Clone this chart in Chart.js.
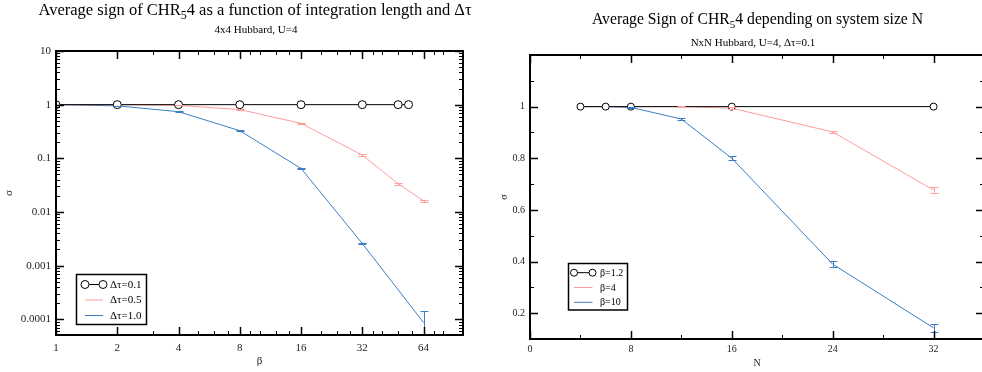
<!DOCTYPE html>
<html><head><meta charset="utf-8">
<script src="https://cdn.jsdelivr.net/npm/chart.js@4.4.0/dist/chart.umd.min.js"></script>
<style>
html,body{margin:0;padding:0;background:#fff;overflow:hidden;width:982px;height:372px;position:relative;}
#c1{position:absolute;left:0;top:0;}
#c2{position:absolute;left:491px;top:0;}
</style></head><body>
<canvas id="c1" width="491" height="372"></canvas>
<canvas id="c2" width="520" height="372"></canvas>
<script>
// ---------- Left chart data (4x4 Hubbard, U=4) ----------
const tau01Beta = [1, 2, 4, 8, 16, 32, 48, 54];
const tau01Sign = [1, 1, 1, 1, 1, 1, 1, 1];
const tau05Beta = [1, 2, 4, 8, 16, 32, 48, 64];
const tau05Sign = [1, 0.995, 0.97, 0.81, 0.448, 0.115, 0.0336, 0.0162];
const tau05Err  = [0, 0, 0.005, 0.01, 0.012, 0.004, 0.0012, 0.0008];
const tau10Beta = [1, 2, 4, 8, 16, 32, 64];
const tau10Sign = [1, 0.95, 0.74, 0.327, 0.0648, 0.00258, 0.000087];
const tau10Err  = [0, 0.005, 0.01, 0.008, 0.002, 0.0001, 0.000053];
const leftXTicks = [1, 2, 4, 8, 16, 32, 64];
const leftXMinor = [3, 5, 6, 7, 9, 10, 12, 14, 20, 24, 28, 36, 40, 48, 56, 72, 80];
const leftYTicks = [0.0001, 0.001, 0.01, 0.1, 1, 10];
const leftLabels = ['\u0394\u03c4=0.1', '\u0394\u03c4=0.5', '\u0394\u03c4=1.0'];

// ---------- Right chart data (NxN Hubbard, U=4, dtau=0.1) ----------
const b12N = [4, 6, 8, 16, 32];
const b12Sign = [1, 1, 1, 1, 1];
const b4N = [4, 6, 8, 12, 16, 24, 32];
const b4Sign = [1, 1, 1, 1, 0.994, 0.902, 0.677];
const b4Err  = [0, 0, 0, 0.002, 0.003, 0.004, 0.01];
const b10N = [4, 6, 8, 12, 16, 24, 32];
const b10Sign = [1, 1, 0.997, 0.952, 0.80, 0.39, 0.143];
const b10Err  = [0, 0, 0.002, 0.003, 0.007, 0.011, 0.014];
const rightXTicks = [0, 8, 16, 24, 32];
const rightXMinor = [4, 12, 20, 28];
const rightYTicks = [0.2, 0.4, 0.6, 0.8, 1];
const rightYMinor = [0.3, 0.5, 0.7, 0.9, 1.1, 1.2];
const rightLabels = ['\u03b2=1.2', '\u03b2=4', '\u03b2=10'];

const SERIF = "'Liberation Serif','Times New Roman',serif";
const PINK = '#ff9c9c';
const BLUE = '#3a7fc4';

function pts(xs, ys) { return xs.map((x, i) => ({ x: x, y: ys[i] })); }

const titlePlugin = {
  id: 'titles',
  afterDraw(chart, args, o) {
    const ctx = chart.ctx;
    ctx.save();
    ctx.fillStyle = '#000';
    ctx.textBaseline = 'alphabetic';
    const big = o.size + 'px ' + SERIF, small = Math.round(o.size * 0.7) + 'px ' + SERIF;
    let w = 0;
    o.parts.forEach(p => { ctx.font = p.sub ? small : big; w += ctx.measureText(p.t).width; });
    let x = o.cx - w / 2;
    ctx.textAlign = 'left';
    o.parts.forEach(p => {
      ctx.font = p.sub ? small : big;
      ctx.fillText(p.t, x, o.y + (p.sub ? 4 : 0));
      x += ctx.measureText(p.t).width;
    });
    ctx.font = o.subSize + 'px ' + SERIF;
    ctx.textAlign = 'center';
    ctx.fillText(o.subText, o.subCx, o.subY);
    ctx.restore();
  }
};

const errPlugin = {
  id: 'errbars',
  afterDatasetsDraw(chart) {
    const { ctx, chartArea: ca, scales: { x, y } } = chart;
    ctx.save();
    ctx.beginPath(); ctx.rect(ca.left, ca.top, ca.width, ca.height); ctx.clip();
    chart.data.datasets.forEach(ds => {
      if (!ds.errors) return;
      ctx.strokeStyle = ds.borderColor; ctx.lineWidth = 1;
      ds.data.forEach((p, i) => {
        const e = ds.errors[i];
        if (!e) return;
        const px = Math.round(x.getPixelForValue(p.x)) + 0.5;
        const lo = p.y - e;
        const yTop = y.getPixelForValue(p.y + e);
        const yBot = lo > 0 ? y.getPixelForValue(lo) : ca.bottom + 10;
        ctx.beginPath();
        ctx.moveTo(px, yTop); ctx.lineTo(px, yBot);
        ctx.moveTo(px - 4, Math.round(yTop) + 0.5); ctx.lineTo(px + 4, Math.round(yTop) + 0.5);
        ctx.moveTo(px - 4, Math.round(yBot) + 0.5); ctx.lineTo(px + 4, Math.round(yBot) + 0.5);
        ctx.stroke();
      });
    });
    ctx.restore();
  }
};

const framePlugin = {
  id: 'frame',
  afterDatasetsDraw(chart, args, o) {
    const { ctx, chartArea: ca, scales: { x, y } } = chart;
    ctx.save();
    ctx.strokeStyle = '#000';
    const seg = (x0, y0, x1, y1) => { ctx.beginPath(); ctx.moveTo(x0, y0); ctx.lineTo(x1, y1); ctx.stroke(); };
    const xt = (vals, len, lw) => {
      ctx.lineWidth = lw;
      vals.forEach(v => {
        const p = Math.round(x.getPixelForValue(v)) + 0.5;
        if (p < ca.left - 0.5 || p > ca.right + 0.5) return;
        seg(p, ca.bottom, p, ca.bottom - len); seg(p, ca.top, p, ca.top + len);
      });
    };
    const yt = (vals, len, lw) => {
      ctx.lineWidth = lw;
      vals.forEach(v => {
        const p = Math.round(y.getPixelForValue(v)) + 0.5;
        if (p < ca.top - 0.5 || p > ca.bottom + 0.5) return;
        seg(ca.left, p, ca.left + len, p); seg(ca.right, p, ca.right - len, p);
      });
    };
    xt(o.xMajor, o.majLen, 1.5); xt(o.xMinor, o.minLen, 1);
    yt(o.yMajor, o.majLen, 1.5); yt(o.yMinor, o.minLen, 1);
    ctx.lineWidth = 2;
    ctx.strokeRect(ca.left, ca.top, ca.width, ca.height);
    ctx.restore();
  }
};

const legendPlugin = {
  id: 'boxLegend',
  afterDraw(chart, args, o) {
    const ctx = chart.ctx;
    ctx.save();
    ctx.fillStyle = '#fff';
    ctx.fillRect(o.x, o.y, o.w, o.h);
    ctx.strokeStyle = '#000'; ctx.lineWidth = 1.5;
    ctx.strokeRect(o.x, o.y, o.w, o.h);
    ctx.font = o.size + 'px ' + SERIF;
    ctx.textBaseline = 'middle'; ctx.textAlign = 'left';
    chart.data.datasets.forEach((ds, i) => {
      const ry = o.rows[i];
      ctx.strokeStyle = ds.borderColor; ctx.lineWidth = 1;
      ctx.beginPath(); ctx.moveTo(o.l0, ry); ctx.lineTo(o.l1, ry); ctx.stroke();
      if (ds.pointRadius > 0) {
        [o.l0, o.l1].forEach(cx => {
          ctx.beginPath(); ctx.arc(cx, ry, ds.pointRadius, 0, Math.PI * 2);
          ctx.fillStyle = '#fff'; ctx.fill(); ctx.strokeStyle = '#000'; ctx.stroke();
        });
      }
      ctx.fillStyle = '#000';
      ctx.fillText(ds.label, o.tx, ry + 0.5);
    });
    ctx.restore();
  }
};

function lineDs(label, data, color, radius, errors) {
  return {
    label: label, data: data, borderColor: color, backgroundColor: color,
    borderWidth: 1, tension: 0, pointRadius: radius, pointHoverRadius: radius,
    pointBorderColor: '#000', pointBackgroundColor: '#fff', pointBorderWidth: 1,
    errors: errors, fill: false
  };
}

function fmt(v) { return String(v); }

// ---------- Left chart ----------
const leftYMinor = [];
[1e-5, 1e-4, 1e-3, 1e-2, 1e-1, 1].forEach(d => { for (let k = 2; k <= 9; k++) { const v = k * d; if (v > 5e-5 && v < 10) leftYMinor.push(v); } });

new Chart(document.getElementById('c1'), {
  type: 'line',
  data: {
    datasets: [
      lineDs(leftLabels[0], pts(tau01Beta, tau01Sign), '#000', 4, null),
      lineDs(leftLabels[1], pts(tau05Beta, tau05Sign), PINK, 0, tau05Err),
      lineDs(leftLabels[2], pts(tau10Beta, tau10Sign), BLUE, 0, tau10Err)
    ]
  },
  options: {
    responsive: false, animation: false, devicePixelRatio: 1,
    layout: { padding: { left: 0, right: 28, top: 51, bottom: 0 } },
    plugins: {
      legend: { display: false }, tooltip: { enabled: false },
      titles: {
        parts: [{ t: 'Average sign of CHR' }, { t: '5', sub: true }, { t: '4 as a function of integration length and \u0394\u03c4' }],
        size: 16.5, cx: 255, y: 15, subText: '4x4 Hubbard, U=4', subSize: 11, subCx: 256, subY: 33
      },
      frame: { xMajor: leftXTicks, xMinor: leftXMinor, yMajor: leftYTicks, yMinor: leftYMinor, majLen: 8, minLen: 4 },
      boxLegend: { x: 76.5, y: 274.5, w: 70, h: 50, rows: [284.5, 300, 315.5], l0: 85, l1: 103, tx: 110, size: 11 }
    },
    scales: {
      x: {
        type: 'logarithmic', min: 1, max: 100,
        grid: { display: false, drawTicks: false }, border: { display: false },
        afterBuildTicks: s => { s.ticks = leftXTicks.map(v => ({ value: v })); },
        afterFit: s => { s.height = 37; },
        ticks: { callback: fmt, autoSkip: false, maxRotation: 0, padding: 7, color: '#222', font: { family: SERIF, size: 11 } },
        title: { display: true, text: '\u03b2', color: '#222', padding: { top: 0, bottom: 4 }, font: { family: SERIF, size: 11 } }
      },
      y: {
        type: 'logarithmic', min: 5.1e-5, max: 10,
        grid: { display: false, drawTicks: false }, border: { display: false },
        afterBuildTicks: s => { s.ticks = leftYTicks.map(v => ({ value: v })); },
        afterFit: s => { s.width = 56; },
        ticks: { callback: fmt, autoSkip: false, padding: 5, color: '#222', font: { family: SERIF, size: 11 } },
        title: { display: true, text: '\u03c3', color: '#222', padding: { top: 3, bottom: 0 }, font: { family: SERIF, size: 11 } }
      }
    }
  },
  plugins: [errPlugin, framePlugin, titlePlugin, legendPlugin]
});

// ---------- Right chart ----------
new Chart(document.getElementById('c2'), {
  type: 'line',
  data: {
    datasets: [
      lineDs(rightLabels[0], pts(b12N, b12Sign), '#000', 3.5, null),
      lineDs(rightLabels[1], pts(b4N, b4Sign), PINK, 0, b4Err),
      lineDs(rightLabels[2], pts(b10N, b10Sign), BLUE, 0, b10Err)
    ]
  },
  options: {
    responsive: false, animation: false, devicePixelRatio: 1,
    layout: { padding: { left: 0, right: 27, top: 55, bottom: 0 } },
    plugins: {
      legend: { display: false }, tooltip: { enabled: false },
      titles: {
        parts: [{ t: 'Average Sign of CHR' }, { t: '5', sub: true }, { t: '4 depending on system size N' }],
        size: 15.7, cx: 266.5, y: 24, subText: 'NxN Hubbard, U=4, \u0394\u03c4=0.1', subSize: 11, subCx: 262, subY: 45.5
      },
      frame: { xMajor: rightXTicks, xMinor: rightXMinor, yMajor: rightYTicks, yMinor: rightYMinor, majLen: 8, minLen: 4 },
      boxLegend: { x: 77.5, y: 263.5, w: 59, h: 46.5, rows: [272.7, 287.5, 302.3], l0: 83, l1: 101.5, tx: 109, size: 10 }
    },
    scales: {
      x: {
        type: 'linear', min: 0, max: 36,
        grid: { display: false, drawTicks: false }, border: { display: false },
        afterBuildTicks: s => { s.ticks = rightXTicks.map(v => ({ value: v })); },
        afterFit: s => { s.height = 33; },
        ticks: { callback: fmt, autoSkip: false, maxRotation: 0, padding: 4, color: '#222', font: { family: SERIF, size: 10 } },
        title: { display: true, text: 'N', color: '#222', padding: { top: 0, bottom: 3 }, font: { family: SERIF, size: 10 } }
      },
      y: {
        type: 'linear', min: 0.1, max: 1.2,
        grid: { display: false, drawTicks: false }, border: { display: false },
        afterBuildTicks: s => { s.ticks = rightYTicks.map(v => ({ value: v })); },
        afterFit: s => { s.width = 39; },
        ticks: { callback: fmt, autoSkip: false, padding: 5, color: '#222', font: { family: SERIF, size: 10 } },
        title: { display: true, text: '\u03c3', color: '#222', padding: { top: 7, bottom: 0 }, font: { family: SERIF, size: 10 } }
      }
    }
  },
  plugins: [errPlugin, framePlugin, titlePlugin, legendPlugin]
});
</script>
</body></html>
